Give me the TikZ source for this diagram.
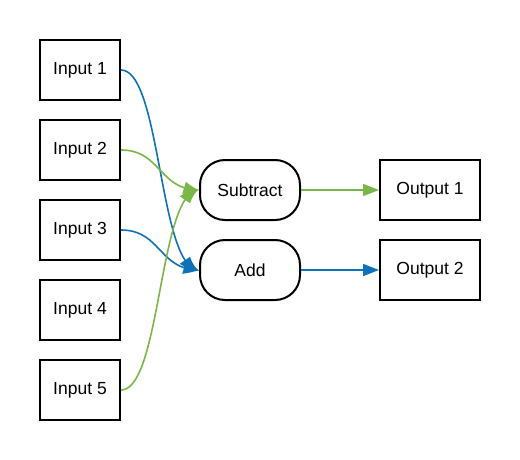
\documentclass[tikz,border=0pt]{standalone}
\usepackage{fontspec}
\setmainfont{Liberation Sans}
\usepackage{xcolor}
\usetikzlibrary{arrows.meta,bending,positioning}
\definecolor{lblue}{HTML}{1071B8}
\definecolor{lgreen}{HTML}{7AB648}

\begin{document}
\begin{tikzpicture}[x=1pt,y=-1pt,
	font=\fontsize{17.5}{21}\selectfont,
	box/.style={draw,line width=2pt,minimum width=80pt,minimum height=60pt,inner sep=0pt},
	outbox/.style={box,minimum width=100pt},
	opbox/.style={box,minimum width=100pt,rounded corners=25pt},
	link/.style={line width=1.6pt,-{Triangle[length=16pt,width=12pt,bend]}}]
	\useasboundingbox (0,0) rectangle (520,460);
	\node[box] (in1) at (80,70) {Input 1};
	\node[box] (in2) at (80,150) {Input 2};
	\node[box] (in3) at (80,230) {Input 3};
	\node[box] (in4) at (80,310) {Input 4};
	\node[box] (in5) at (80,390) {Input 5};
	\node[opbox] (sub) at (250,190) {Subtract};
	\node[opbox] (add) at (250,270) {Add};
	\node[outbox] (out1) at (430,190) {Output 1};
	\node[outbox] (out2) at (430,270) {Output 2};
	\draw[link,lblue] (in1.east) .. controls +(40,0) and +(-40,0) .. (add.west);
	\draw[link,lblue] (in3.east) .. controls +(40,0) and +(-40,0) .. (add.west);
	\draw[link,lgreen] (in2.east) .. controls +(40,0) and +(-40,0) .. (sub.west);
	\draw[link,lgreen] (in5.east) .. controls +(40,0) and +(-40,0) .. (sub.west);
	\draw[link,lgreen] (sub) -- (out1);
	\draw[link,lblue] (add) -- (out2);
\end{tikzpicture}
\end{document}
